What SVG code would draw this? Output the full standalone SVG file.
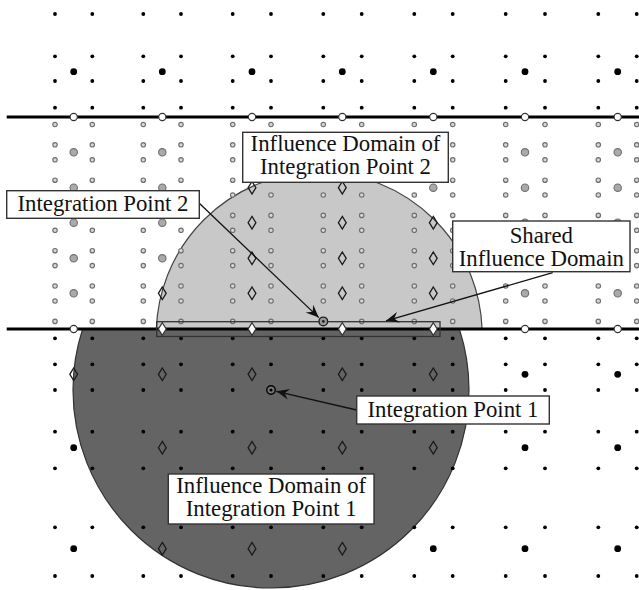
<svg xmlns="http://www.w3.org/2000/svg" width="639" height="590" viewBox="0 0 639 590">
<style>
.bs{fill:#000}
.bb{fill:#000}
.gs{fill:#d8d8d8;stroke:#707070;stroke-width:1.2}
.gb{fill:#aaa;stroke:#707070;stroke-width:1.1}
.dm{fill:none;stroke:#1a1a1a;stroke-width:1.3}
.wd{fill:#fff;stroke:#333;stroke-width:1.2}
.wc{fill:#fff;stroke:#333;stroke-width:1.1}
.ln{stroke:#000;stroke-width:3;fill:none}
.box{fill:#fff;stroke:#333;stroke-width:1.4}
.t{font-family:"Liberation Serif","Times New Roman",serif;font-size:22.8px;fill:#111}
.arr{stroke:#111;stroke-width:1.3;fill:none;marker-end:url(#ah)}
</style>
<defs>
<circle id="s" r="1.9"/>
<circle id="b" r="3.4"/>
<circle id="g" r="2.2"/>
<circle id="G" r="3.7"/>
<circle id="w" r="3.6"/>
<path id="d" d="M0,-6.3 L3.9,0 L0,6.3 L-3.9,0 Z"/>
<marker id="ah" viewBox="-14 -6 16 12" refX="0" refY="0" markerWidth="16" markerHeight="12" markerUnits="userSpaceOnUse" orient="auto">
<path d="M0,0 L-13,-5.5 L-8.5,0 L-13,5.5 Z" fill="#111"/>
</marker>
<g id="rowS" class="bs">
<use href="#s" x="55"/><use href="#s" x="92.3"/><use href="#s" x="143.3"/><use href="#s" x="181"/><use href="#s" x="232.7"/><use href="#s" x="271"/><use href="#s" x="323.3"/><use href="#s" x="361.7"/><use href="#s" x="414.3"/><use href="#s" x="452.7"/><use href="#s" x="505.7"/><use href="#s" x="545"/><use href="#s" x="598.3"/><use href="#s" x="636.7"/>
</g>
<g id="rowG" class="gs">
<use href="#g" x="55"/><use href="#g" x="92.3"/><use href="#g" x="143.3"/><use href="#g" x="181"/><use href="#g" x="232.7"/><use href="#g" x="271"/><use href="#g" x="323.3"/><use href="#g" x="361.7"/><use href="#g" x="414.3"/><use href="#g" x="452.7"/><use href="#g" x="505.7"/><use href="#g" x="545"/><use href="#g" x="598.3"/><use href="#g" x="636.7"/>
</g>
<clipPath id="cTop"><rect x="0" y="117" width="639" height="212"/></clipPath>
<clipPath id="cBot"><rect x="0" y="329" width="639" height="261"/></clipPath>
</defs>
<rect width="639" height="590" fill="#fff"/>

<g id="domains">
<circle id="domain2" cx="319.2" cy="335" r="163" fill="#c8c8c8" stroke="#444" stroke-width="1.2" clip-path="url(#cTop)"/>
<circle id="domain1" cx="271" cy="390" r="198" fill="#646464" stroke="#333" stroke-width="1.2" clip-path="url(#cBot)"/>
</g>

<g id="points">
<use href="#rowS" y="14"/><use href="#rowS" y="56.3"/><use href="#rowS" y="81"/><use href="#rowS" y="107.7"/>
<g class="bb"><use href="#b" x="73.7" y="71.7"/><use href="#b" x="162.3" y="71.7"/><use href="#b" x="252" y="71.7"/><use href="#b" x="342.3" y="71.7"/><use href="#b" x="433.3" y="71.7"/><use href="#b" x="525" y="71.7"/><use href="#b" x="617.7" y="71.7"/></g>
<use href="#rowG" y="124.5"/><use href="#rowG" y="144.8"/><use href="#rowG" y="159.8"/><use href="#rowG" y="180.2"/><use href="#rowG" y="195"/><use href="#rowG" y="215.4"/><use href="#rowG" y="230.3"/><use href="#rowG" y="250.7"/><use href="#rowG" y="265.6"/><use href="#rowG" y="286"/><use href="#rowG" y="301"/><use href="#rowG" y="321.4"/>
<g class="gb">
<use href="#G" x="73.7" y="152.3"/><use href="#G" x="162.3" y="152.3"/><use href="#G" x="252" y="152.3"/><use href="#G" x="342.3" y="152.3"/><use href="#G" x="433.3" y="152.3"/><use href="#G" x="525" y="152.3"/><use href="#G" x="617.7" y="152.3"/>
<use href="#G" x="73.7" y="187.7"/><use href="#G" x="162.3" y="187.7"/><use href="#G" x="433.3" y="187.7"/><use href="#G" x="525" y="187.7"/><use href="#G" x="617.7" y="187.7"/>
<use href="#G" x="73.7" y="222.7"/><use href="#G" x="162.3" y="222.7"/><use href="#G" x="525" y="222.7"/><use href="#G" x="617.7" y="222.7"/>
<use href="#G" x="73.7" y="258.3"/><use href="#G" x="162.3" y="258.3"/><use href="#G" x="525" y="258.3"/><use href="#G" x="617.7" y="258.3"/>
<use href="#G" x="73.7" y="293.3"/><use href="#G" x="525" y="293.3"/><use href="#G" x="617.7" y="293.3"/>
</g>
<g class="dm">
<use href="#d" x="252" y="187.7"/><use href="#d" x="342.3" y="187.7"/>
<use href="#d" x="252" y="222.7"/><use href="#d" x="342.3" y="222.7"/><use href="#d" x="433.3" y="222.7"/>
<use href="#d" x="252" y="258.3"/><use href="#d" x="342.3" y="258.3"/><use href="#d" x="433.3" y="258.3"/>
<use href="#d" x="162.3" y="293.3"/><use href="#d" x="252" y="293.3"/><use href="#d" x="342.3" y="293.3"/><use href="#d" x="433.3" y="293.3"/>
</g>
<use href="#rowS" y="338.3"/><use href="#rowS" y="364.3"/><use href="#rowS" y="390"/><use href="#rowS" y="431.7"/><use href="#rowS" y="468.3"/><use href="#rowS" y="527.3"/><use href="#rowS" y="576"/>
<g class="bb">
<use href="#b" x="525" y="374.3"/><use href="#b" x="617.7" y="374.3"/>
<use href="#b" x="73.7" y="447.7"/><use href="#b" x="525" y="447.7"/><use href="#b" x="617.7" y="447.7"/>
<use href="#b" x="73.7" y="548.7"/><use href="#b" x="433.3" y="548.7"/><use href="#b" x="525" y="548.7"/><use href="#b" x="617.7" y="548.7"/>
</g>
<g class="dm">
<use href="#d" x="73.7" y="374.3"/><use href="#d" x="162.3" y="374.3"/><use href="#d" x="252" y="374.3"/><use href="#d" x="342.3" y="374.3"/><use href="#d" x="433.3" y="374.3"/>
<use href="#d" x="162.3" y="447.7"/><use href="#d" x="252" y="447.7"/><use href="#d" x="342.3" y="447.7"/><use href="#d" x="433.3" y="447.7"/>
<use href="#d" x="162.3" y="548.7"/><use href="#d" x="252" y="548.7"/><use href="#d" x="342.3" y="548.7"/>
</g>
</g>

<g id="boundaries">
<line class="ln" x1="6.7" y1="117" x2="639" y2="117"/>
<line class="ln" x1="6.7" y1="329" x2="639" y2="329"/>
<g class="wc">
<use href="#w" x="73.7" y="117"/><use href="#w" x="162.3" y="117"/><use href="#w" x="252" y="117"/><use href="#w" x="342.3" y="117"/><use href="#w" x="433.3" y="117"/><use href="#w" x="525" y="117"/><use href="#w" x="617.7" y="117"/>
<use href="#w" x="73.7" y="329"/><use href="#w" x="525" y="329"/><use href="#w" x="617.7" y="329"/>
</g>
<g class="wd">
<use href="#d" x="162.3" y="329"/><use href="#d" x="252" y="329"/><use href="#d" x="342.3" y="329"/><use href="#d" x="433.3" y="329"/>
</g>
</g>

<g id="shared-domain">
<rect x="156.7" y="321.7" width="283.3" height="14.8" fill="none" stroke="#333" stroke-width="1.3"/>
</g>

<g id="ip2">
<circle cx="323.3" cy="321.4" r="4.3" fill="#999" stroke="#222" stroke-width="1.4"/>
<circle cx="323.3" cy="321.4" r="1.4" fill="#222"/>
</g>
<g id="ip1">
<circle cx="271" cy="390" r="4.2" fill="#777" stroke="#000" stroke-width="1.4"/>
<circle cx="271" cy="390" r="1.6" fill="#000"/>
</g>

<g id="connectors">
<line class="arr" x1="199.3" y1="203.3" x2="318.8" y2="317.6"/>
<line class="arr" x1="552.7" y1="272.7" x2="386" y2="320.8"/>
<line class="arr" x1="356.7" y1="410" x2="276.3" y2="391.3"/>
</g>

<g id="label-domain2">
<rect class="box" x="242.7" y="132.3" width="205.6" height="50"/>
<text class="t" x="345.5" y="151" text-anchor="middle">Influence Domain of</text>
<text class="t" x="345.5" y="174" text-anchor="middle">Integration Point 2</text>
</g>
<g id="label-ip2">
<rect class="box" x="6.7" y="190.7" width="192.6" height="27.6"/>
<text class="t" x="103" y="211.2" text-anchor="middle">Integration Point 2</text>
</g>
<g id="label-shared">
<rect class="box" x="452.7" y="221" width="177.3" height="50.7"/>
<text class="t" x="541.3" y="242.6" text-anchor="middle">Shared</text>
<text class="t" x="541.3" y="265.6" text-anchor="middle">Influence Domain</text>
</g>
<g id="label-ip1">
<rect class="box" x="356.7" y="396" width="192.6" height="28"/>
<text class="t" x="453" y="416.8" text-anchor="middle">Integration Point 1</text>
</g>
<g id="label-domain1">
<rect class="box" x="168.3" y="474" width="205.7" height="50"/>
<text class="t" x="271.2" y="492.6" text-anchor="middle">Influence Domain of</text>
<text class="t" x="271.2" y="515.6" text-anchor="middle">Integration Point 1</text>
</g>
</svg>
